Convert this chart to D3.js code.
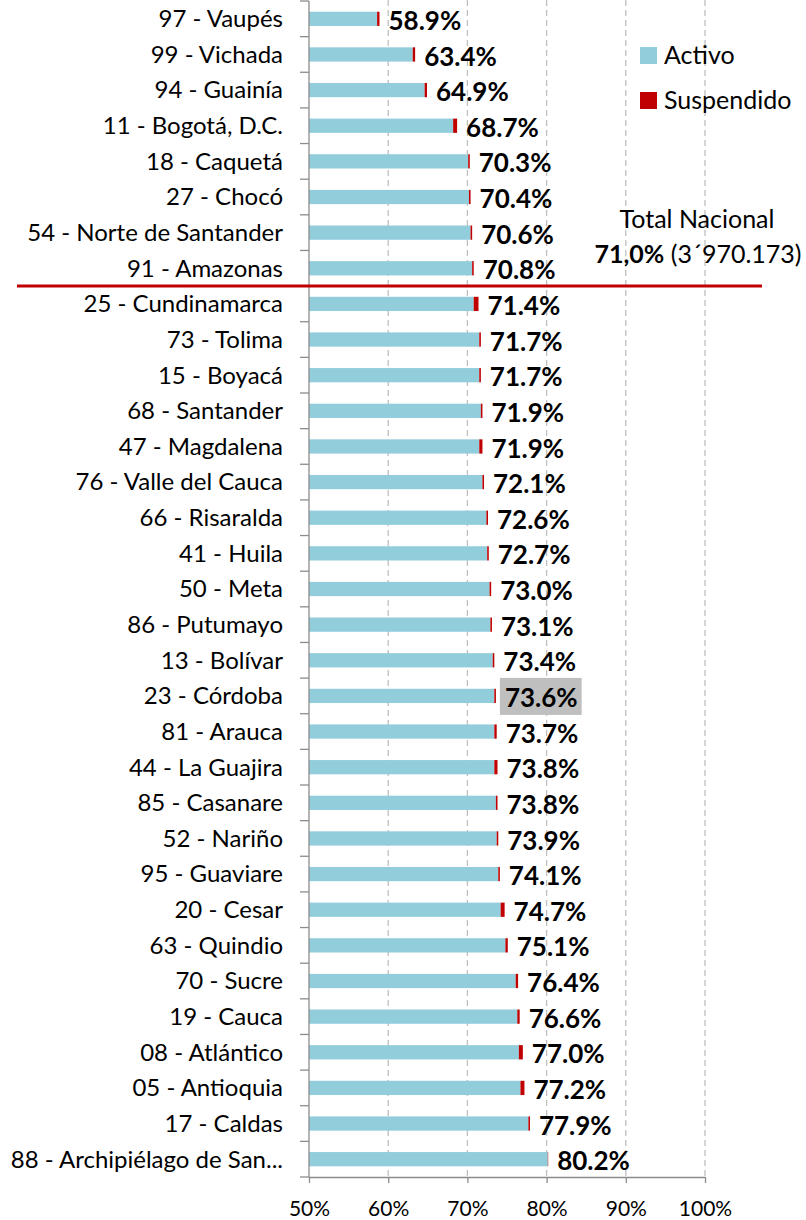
<!DOCTYPE html>
<html>
<head>
<meta charset="utf-8">
<script src="https://cdn.jsdelivr.net/npm/d3@7"></script>
<style>
  body { margin: 0; background: #fff; }
  svg { font-family: Lato, "Open Sans", sans-serif; }
</style>
</head>
<body>
<svg id="chart"></svg>
<script>
// Departamentos, de arriba hacia abajo
const departamentos = [
  "97 - Vaupés", "99 - Vichada", "94 - Guainía", "11 - Bogotá, D.C.", "18 - Caquetá",
  "27 - Chocó", "54 - Norte de Santander", "91 - Amazonas", "25 - Cundinamarca", "73 - Tolima",
  "15 - Boyacá", "68 - Santander", "47 - Magdalena", "76 - Valle del Cauca", "66 - Risaralda",
  "41 - Huila", "50 - Meta", "86 - Putumayo", "13 - Bolívar", "23 - Córdoba",
  "81 - Arauca", "44 - La Guajira", "85 - Casanare", "52 - Nariño", "95 - Guaviare",
  "20 - Cesar", "63 - Quindio", "70 - Sucre", "19 - Cauca", "08 - Atlántico",
  "05 - Antioquia", "17 - Caldas", "88 - Archipiélago de San..."
];
// total (activo + suspendido), en %
const totales = [
  58.9, 63.4, 64.9, 68.7, 70.3, 70.4, 70.6, 70.8, 71.4, 71.7,
  71.7, 71.9, 71.9, 72.1, 72.6, 72.7, 73.0, 73.1, 73.4, 73.6,
  73.7, 73.8, 73.8, 73.9, 74.1, 74.7, 75.1, 76.4, 76.6, 77.0,
  77.2, 77.9, 80.2
];
// parte suspendida (estimada del gráfico)
const suspendido = [
  0.3, 0.3, 0.3, 0.5, 0.2, 0.2, 0.2, 0.2, 0.6, 0.2,
  0.2, 0.2, 0.4, 0.2, 0.2, 0.2, 0.2, 0.2, 0.2, 0.2,
  0.3, 0.4, 0.2, 0.2, 0.2, 0.5, 0.3, 0.3, 0.3, 0.5,
  0.5, 0.2, 0.05
];
const xTicks = [50, 60, 70, 80, 90, 100];
const resaltado = "23 - Córdoba";
const corte = 8; // línea del total nacional antes de la fila 8
const totalNacional = ["Total Nacional", "71,0%", " (3´970.173)"];

const width = 806, height = 1220;
const colorActivo = "#92cddc", colorSusp = "#c00000";

const svg = d3.select("#chart").attr("width", width).attr("height", height);

const x = d3.scaleLinear().domain([50, 100]).range([309, 705]);
const y = d3.scaleBand().domain(departamentos).range([1, 1177]).paddingInner(0.6).paddingOuter(0.3);

// gridlines
svg.append("g").selectAll("line")
  .data(xTicks.slice(1))
  .enter().append("line")
  .attr("x1", d => x(d)).attr("x2", d => x(d))
  .attr("y1", 0).attr("y2", 1177)
  .attr("stroke", "#bfbfbf").attr("stroke-width", 1.3)
  .attr("stroke-dasharray", "6,4");

const datos = departamentos.map((d, i) => ({
  name: d, total: totales[i], susp: suspendido[i], activo: +(totales[i] - suspendido[i]).toFixed(2)
}));

// bars
const rows = svg.append("g").selectAll("g").data(datos).enter().append("g");
rows.append("rect")
  .attr("x", x(50))
  .attr("y", d => y(d.name))
  .attr("width", d => x(d.activo) - x(50))
  .attr("height", y.bandwidth())
  .attr("fill", colorActivo);
rows.append("rect")
  .attr("x", d => x(d.activo))
  .attr("y", d => y(d.name))
  .attr("width", d => x(d.total) - x(d.activo))
  .attr("height", y.bandwidth())
  .attr("fill", colorSusp);

// value labels
rows.each(function(d) {
  const g = d3.select(this);
  const t = g.append("text")
    .attr("x", x(d.total) + 9)
    .attr("y", y(d.name) + y.bandwidth() / 2 + 2)
    .attr("dy", "0.35em")
    .attr("font-size", 26).attr("font-weight", "bold").attr("fill", "#000")
    .text(d.total.toFixed(1) + "%");
  if (d.name === resaltado) {
    const b = t.node().getBBox();
    g.insert("rect", "text")
      .attr("x", b.x - 5).attr("y", y(d.name) + y.bandwidth() / 2 - 18)
      .attr("width", b.width + 9).attr("height", 37)
      .attr("fill", "#bfbfbf");
  }
});

// y axis
const step = y.step();
const yAxis = svg.append("g");
yAxis.append("line").attr("x1", 309).attr("x2", 309).attr("y1", 1).attr("y2", 1177)
  .attr("stroke", "#8c8c8c").attr("stroke-width", 1.3);
yAxis.selectAll("line.tk").data(d3.range(departamentos.length + 1)).enter().append("line")
  .attr("class", "tk")
  .attr("x1", 300).attr("x2", 309)
  .attr("y1", i => 1 + i * step).attr("y2", i => 1 + i * step)
  .attr("stroke", "#8c8c8c").attr("stroke-width", 1.3);
yAxis.selectAll("text").data(departamentos).enter().append("text")
  .attr("x", 283)
  .attr("y", d => y(d) + y.bandwidth() / 2)
  .attr("dy", "0.35em")
  .attr("text-anchor", "end")
  .attr("font-size", 24).attr("fill", "#000")
  .text(d => d);

// x axis
const xAxis = svg.append("g").attr("transform", "translate(0,1177)")
  .call(d3.axisBottom(x).tickValues(xTicks).tickSize(6).tickSizeOuter(0).tickFormat(d => d + "%"));
xAxis.select(".domain").attr("stroke", "#8c8c8c").attr("stroke-width", 1.3);
xAxis.selectAll(".tick line").attr("stroke", "#8c8c8c").attr("stroke-width", 1.3);
xAxis.selectAll(".tick text").attr("font-size", 21).attr("font-family", "Lato, sans-serif")
  .attr("fill", "#000").attr("dy", "1.45em");

// red national line
svg.append("line")
  .attr("x1", 17).attr("x2", 762)
  .attr("y1", 1 + corte * step).attr("y2", 1 + corte * step)
  .attr("stroke", colorSusp).attr("stroke-width", 3);

// legend
const leyenda = [["Activo", colorActivo], ["Suspendido", colorSusp]];
const lg = svg.append("g").selectAll("g").data(leyenda).enter().append("g")
  .attr("transform", (d, i) => `translate(640,${47 + i * 45})`);
lg.append("rect").attr("width", 17).attr("height", 17).attr("fill", d => d[1]);
lg.append("text").attr("x", 24).attr("y", 8.5).attr("dy", "0.35em")
  .attr("font-size", 25).attr("fill", "#000").text(d => d[0]);

// total nacional
svg.append("text").attr("x", 697).attr("y", 228).attr("text-anchor", "middle")
  .attr("font-size", 25).attr("fill", "#000").text(totalNacional[0]);
const tn = svg.append("text").attr("x", 698).attr("y", 263).attr("text-anchor", "middle")
  .attr("font-size", 25).attr("fill", "#000");
tn.append("tspan").attr("font-weight", "bold").text(totalNacional[1]);
tn.append("tspan").text(totalNacional[2]);
</script>
</body>
</html>
